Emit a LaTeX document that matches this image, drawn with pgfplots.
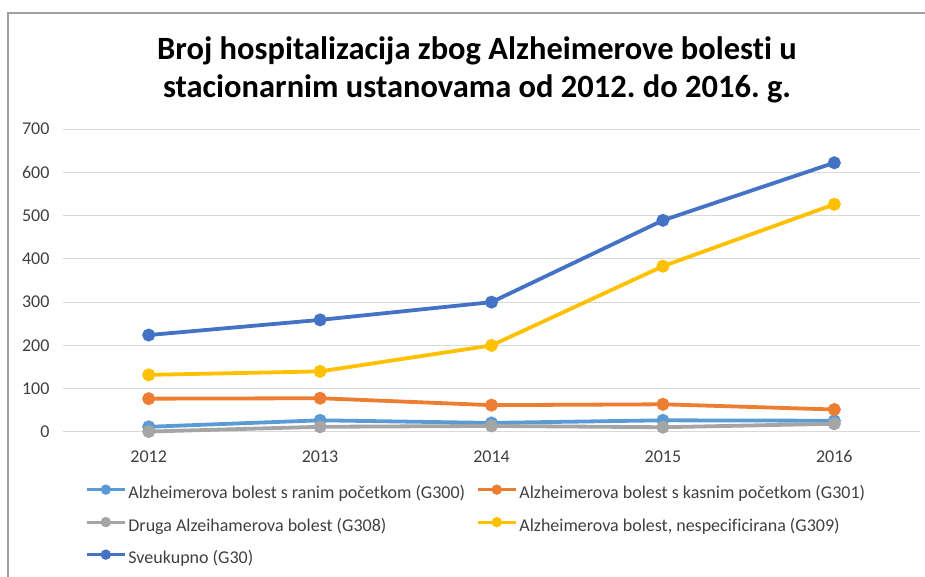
\documentclass[border=0pt]{standalone}
\usepackage{fontspec}
\setmainfont{Carlito}[Ligatures=NoCommon]
\usepackage{pgfplots}
\pgfplotsset{compat=1.18}
\definecolor{cA}{HTML}{5B9BD5}
\definecolor{cB}{HTML}{ED7D31}
\definecolor{cC}{HTML}{A5A5A5}
\definecolor{cD}{HTML}{FFC000}
\definecolor{cE}{HTML}{4472C4}
\definecolor{gridc}{HTML}{D9D9D9}
\definecolor{txt}{HTML}{404040}
\frenchspacing
\begin{document}
\begin{tikzpicture}[x=1pt,y=1pt]
\path[use as bounding box] (0,0) rectangle (925,577);
\draw[color=gray!75, line width=1.5pt] (8,0) -- (8,564) -- (925,564);
\node[font=\bfseries\fontsize{32.5}{38}\selectfont, align=center, text=black] at (477,507) {Broj hospitalizacija zbog Alzheimerove bolesti u\\stacionarnim ustanovama od 2012. do 2016. g.};
\begin{axis}[
  at={(63pt,145pt)}, anchor=south west,
  scale only axis, width=857pt, height=303pt,
  xmin=2011.5, xmax=2016.5, ymin=0, ymax=700,
  xtick={2012,2013,2014,2015,2016},
  ytick={0,100,...,700},
  /pgf/number format/assume math mode=true,
  xticklabel style={/pgf/number format/1000 sep={}, yshift=-15pt},
  yticklabel style={xshift=-10pt},
  ticklabel style={font=\fontsize{18}{20}\selectfont, text=txt},
  axis line style={draw=none},
  major tick style={draw=none},
  ymajorgrids, grid style={color=gridc, line width=1pt},
  clip=false,
  every axis plot/.append style={line width=3.8pt, mark=*, mark size=4.5pt},
  legend columns=2,
  legend cell align=left,
  legend image code/.code={\draw[#1, line width=3.2pt, mark size=3.5pt, mark repeat=2, mark phase=2] plot coordinates {(0pt,4.5pt) (19pt,4.5pt) (38pt,4.5pt)};},
  legend style={at={(axis description cs:0.0257,-0.178)}, anchor=north west, draw=none, fill=none,
    font=\fontsize{18}{20}\selectfont, text=txt, inner sep=0pt,
    nodes={inner sep=0pt, text height=12pt, text depth=3pt},
    row sep=17pt, column sep=2pt,
    /tikz/every even column/.append style={column sep=11pt}},
]
\addplot[color=cA, mark options={fill=cA}] coordinates {(2012,12) (2013,27) (2014,21) (2015,27) (2016,26)};
\addlegendentry{Alzheimerova bolest s ranim početkom (G300)}
\addplot[color=cB, mark options={fill=cB}] coordinates {(2012,77) (2013,78) (2014,62) (2015,64) (2016,52)};
\addlegendentry{Alzheimerova bolest s kasnim početkom (G301)}
\addplot[color=cC, mark options={fill=cC}] coordinates {(2012,1) (2013,12) (2014,14) (2015,11) (2016,19)};
\addlegendentry{Druga Alzeihamerova bolest (G308)}
\addplot[color=cD, mark options={fill=cD}] coordinates {(2012,132) (2013,140) (2014,200) (2015,383) (2016,526)};
\addlegendentry{Alzheimerova bolest, nespecificirana (G309)}
\addplot[color=cE, mark options={fill=cE}] coordinates {(2012,224) (2013,259) (2014,300) (2015,489) (2016,622)};
\addlegendentry{Sveukupno (G30)}
\end{axis}
\end{tikzpicture}
\end{document}
